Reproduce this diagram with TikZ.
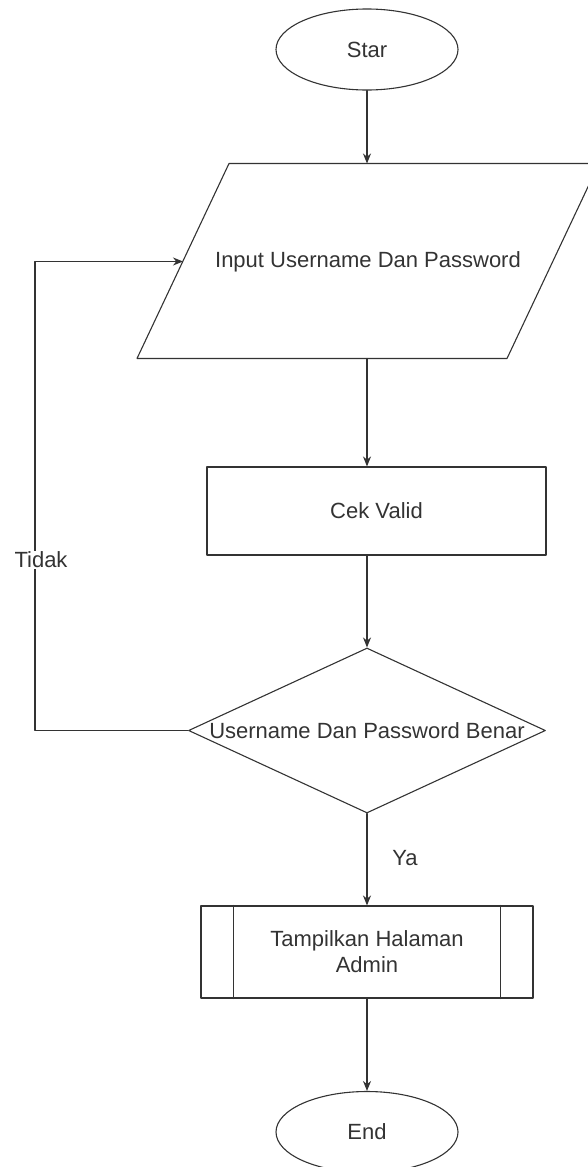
\documentclass[tikz,border=0pt]{standalone}
\usepackage{fontspec}
\setmainfont{Liberation Sans}
\usetikzlibrary{shapes.geometric,arrows.meta}
\definecolor{linegray}{HTML}{333333}
\tikzset{
  base/.style={draw=linegray,line width=1.1pt,font=\fontsize{22}{26}\selectfont,text=linegray},
  terminal/.style={base,ellipse,minimum width=182,minimum height=81,inner sep=0pt},
  procbox/.style={base,rectangle,minimum width=339,minimum height=88},
  decbox/.style={base,diamond,minimum width=357,minimum height=165,inner sep=1pt},
  subbox/.style={base,rectangle,minimum width=332,minimum height=92,align=center},
  lbl/.style={font=\fontsize{22}{26}\selectfont,text=linegray,inner sep=1pt},
  conn/.style={draw=linegray,line width=1.1pt,->}
}
\begin{document}
\begin{tikzpicture}[line cap=round,line join=round,>={Stealth[length=10pt,width=8pt]},x=1pt,y=-1pt]
\useasboundingbox (0,0) rectangle (587,1167);
\node[terminal] (star) at (367,49.5) {Star};
% jajaran genjang input
\draw[linegray,line width=1.1pt] (137,358.5) -- (229,163.5) -- (599,163.5) -- (507,358.5) -- cycle;
\node[lbl] (input) at (368,261.5) {Input Username Dan Password};
\coordinate (inTop) at (367,163.5);
\coordinate (inBot) at (367,358.5);
\coordinate (inLeft) at (183,261.5);
\node[procbox] (cek) at (376.5,511) {Cek Valid};
\node[decbox,label=center:{\fontsize{22}{26}\selectfont\color{linegray}Username Dan Password Benar}] (dec) at (367,730.5) {};
\node[subbox] (admin) at (367,952) {Tampilkan Halaman\\Admin};
\node[terminal] (end) at (367,1132) {End};
% garis dalam proses
\draw[linegray,line width=1.1pt] ([xshift=33pt]admin.north west) -- ([xshift=33pt]admin.south west);
\draw[linegray,line width=1.1pt] ([xshift=-33pt]admin.north east) -- ([xshift=-33pt]admin.south east);
% alur
\draw[conn] (star.south) -- (inTop);
\draw[conn] (inBot) -- (cek.north -| inBot);
\draw[conn] (cek.south -| star.south) -- (dec.north);
\draw[conn] (dec.south) -- (admin.north);
\draw[conn] (admin.south) -- (end.north);
\coordinate (loop) at (35,730.5);
\draw[conn] (dec.west) -- (loop) |- (inLeft);
\node[lbl,fill=white] (tidak) at (41,560) {Tidak};
\node[lbl] (ya) at (405,858) {Ya};
\end{tikzpicture}
\end{document}
